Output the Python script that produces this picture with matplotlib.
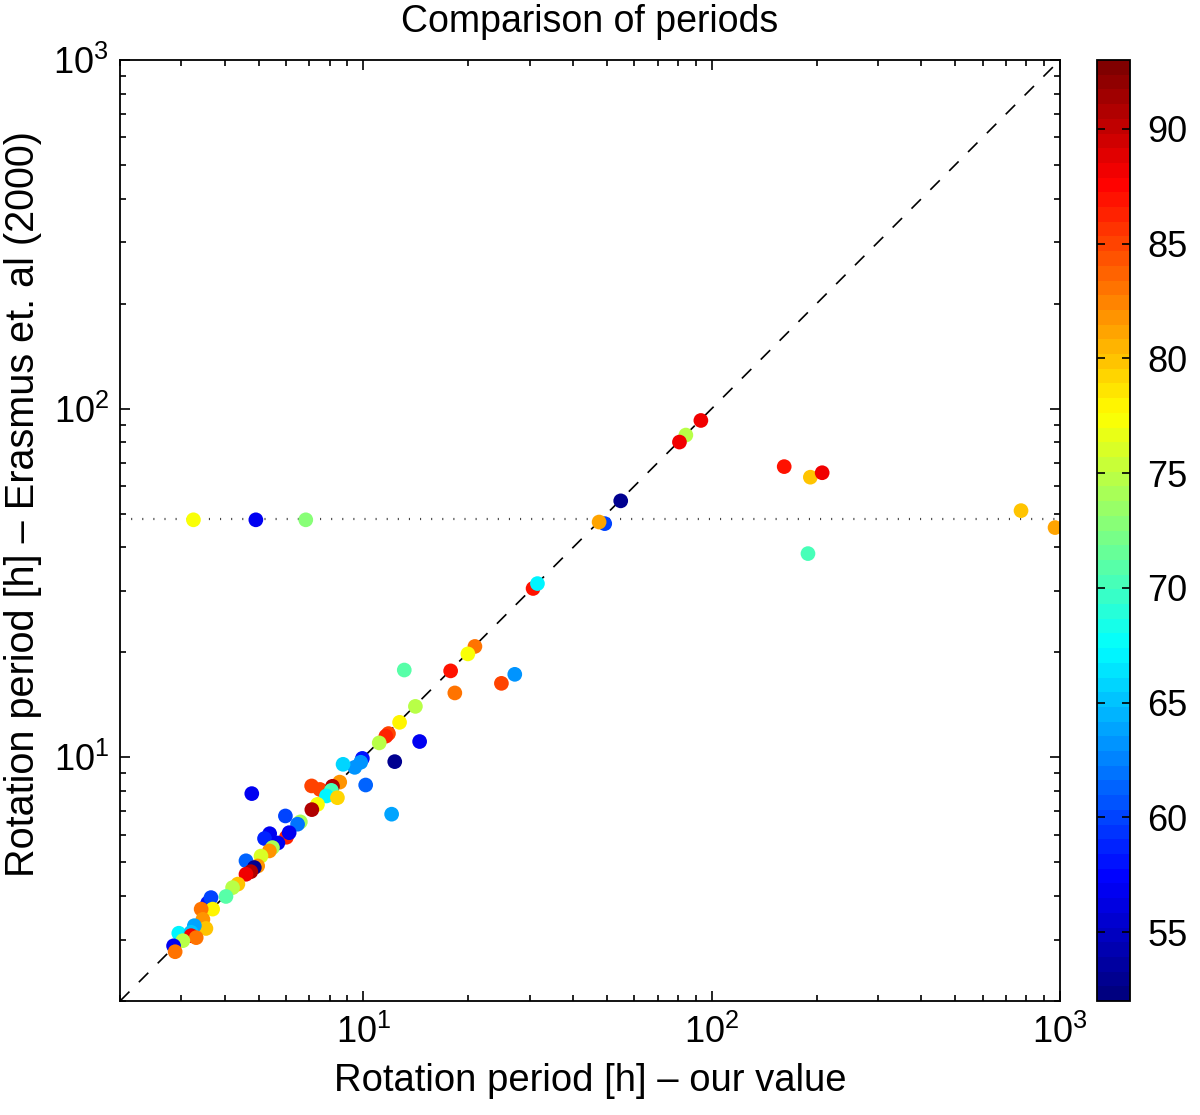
import matplotlib
matplotlib.use("Agg")
import matplotlib.pyplot as plt
from matplotlib.colors import LinearSegmentedColormap

# rotation periods [h]: our value vs. Erasmus et al. (2000), colour = third quantity
our_period = [
    3.25, 4.91, 6.83, 773, 968,
    93.1, 84.3, 80.8, 161.5, 192, 207.6, 189, 54.8, 49.3, 47.5,
    30.7, 31.6, 20.9, 19.95, 13.1, 17.8, 18.3, 24.9, 27.2,
    14.1, 12.7, 11.8, 11.6, 11.1, 14.5, 12.3, 9.93, 9.82, 9.44, 8.74,
    10.15, 12.05, 4.78, 8.55, 7.1, 7.5, 8.15, 8.09, 7.83, 8.42, 7.38, 7.11,
    5.97, 6.59, 6.47, 6.01, 5.38, 5.2, 6.12, 5.68, 5.48, 5.37, 5.08, 4.6,
    4.97, 4.86, 4.75, 4.6, 4.36, 4.21, 4.03, 3.57, 3.65, 3.69, 3.42, 3.46,
    3.53, 3.27, 2.95, 3.2, 3.2, 3.31, 3.03, 2.85, 2.88,
]
erasmus_period = [
    48, 48, 48, 51.0, 45.6,
    92.5, 84.0, 80.2, 68.2, 63.6, 65.5, 38.4, 54.4, 46.8, 47.3,
    30.5, 31.5, 20.8, 19.8, 17.8, 17.7, 15.3, 16.3, 17.3,
    14.0, 12.6, 11.7, 11.5, 11.0, 11.1, 9.72, 9.93, 9.68, 9.36, 9.55,
    8.33, 6.87, 7.87, 8.49, 8.28, 8.09, 8.26, 8.04, 7.75, 7.66, 7.33, 7.08,
    6.79, 6.53, 6.43, 5.9, 6.04, 5.85, 6.08, 5.68, 5.51, 5.39, 5.21, 5.05,
    4.88, 4.83, 4.70, 4.62, 4.33, 4.23, 3.99, 3.82, 3.96, 3.67, 3.67, 3.43,
    3.23, 3.29, 3.13, 3.15, 3.08, 3.04, 2.98, 2.88, 2.77,
]
colour_value = [
    77, 57, 73, 80, 81,
    88, 75, 88, 87, 80, 88, 70, 53, 60, 81,
    87, 67, 83, 77, 71, 87, 83, 85, 63,
    75, 78, 85, 86, 75, 57, 53, 58, 63, 63, 66,
    61, 64, 57, 82, 85, 85, 91, 70, 67, 79, 77, 91,
    60, 74, 62, 86, 57, 59, 57, 57, 74, 82, 76, 61,
    82, 53, 91, 88, 80, 75, 71, 58, 60, 78, 83, 82,
    80, 64, 67, 65, 88, 83, 75, 57, 83,
]
reference_level = 48.4
cbar_ticks = [55, 60, 65, 70, 75, 80, 85, 90]

plt.rcParams["font.family"] = ["Liberation Sans", "DejaVu Sans"]

# classic (symmetric) jet, 64 discrete levels like the IDL colour table
jet_classic = LinearSegmentedColormap.from_list(
    "jet_classic",
    [(0.0, (0, 0, 0.5)), (0.125, (0, 0, 1)), (0.375, (0, 1, 1)),
     (0.625, (1, 1, 0)), (0.875, (1, 0, 0)), (1.0, (0.5, 0, 0))],
    N=64,
)

fig = plt.figure(figsize=(12, 11.15), dpi=100)
ax = fig.add_axes([0.1, 0.1022, 0.7833, 0.8440])
cax = fig.add_axes([0.914, 0.1022, 0.028, 0.8440])

ax.plot([2, 1000], [2, 1000], color="black", lw=1.2, ls=(0, (8, 8)), zorder=1)
ax.axhline(reference_level, color="#444444", lw=1.6, ls=(0, (0.5, 4.5)), zorder=1)
sc = ax.scatter(our_period, erasmus_period, c=colour_value, cmap=jet_classic,
                vmin=52, vmax=93, s=112, edgecolors="none", zorder=2)

ax.set_xscale("log")
ax.set_yscale("log")
ax.set_xlim(2, 1000)
ax.set_ylim(2, 1000)
ax.tick_params(which="both", direction="in", top=True, right=True, labelsize=26, width=1.2)
ax.tick_params(which="major", length=7.5)
ax.tick_params(which="minor", length=4)
ax.tick_params(axis="x", which="major", pad=10)
ax.tick_params(axis="y", which="major", pad=8)
for sp in ax.spines.values():
    sp.set_linewidth(1.3)

ax.set_title("Comparison of periods", fontsize=27, pad=20)
ax.set_xlabel("Rotation period [h] \u2013 our value", fontsize=27.5)
ax.xaxis.set_label_coords(0.5, -0.066)
ax.set_ylabel("Rotation period [h] \u2013 Erasmus et. al (2000)", fontsize=28.5)
ax.yaxis.set_label_coords(-0.083, 0.528)

cb = fig.colorbar(sc, cax=cax, ticks=cbar_ticks)
cb.ax.tick_params(direction="in", length=6, width=1.2, labelsize=26, pad=12,
                  left=True, right=True)
cb.outline.set_linewidth(1.3)

fig.savefig("out.png", dpi=100)
